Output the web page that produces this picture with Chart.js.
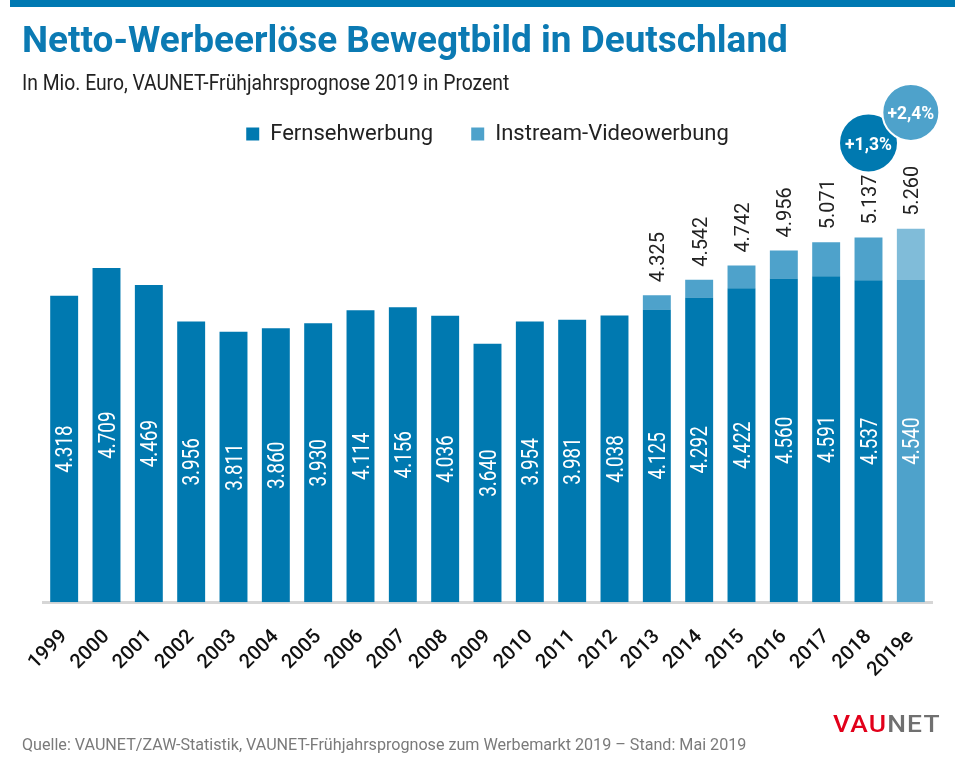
<!DOCTYPE html>
<html lang="de">
<head>
<meta charset="utf-8">
<title>Netto-Werbeerlöse Bewegtbild in Deutschland</title>
<script src="https://cdn.jsdelivr.net/npm/chart.js@4.4.1/dist/chart.umd.min.js"></script>
<style>
  html, body { margin: 0; padding: 0; background: #fff; }
  body { width: 955px; height: 765px; position: relative; overflow: hidden; font-family: Roboto, "Noto Sans", sans-serif; }
  #strip { position: absolute; left: 10px; top: 0; width: 945px; height: 7px; background: #0079b2; }
  .txt { position: absolute; white-space: nowrap; transform-origin: 0 0; }
  #title { left: 22px; top: 22px; font-size: 36px; line-height: 36px; font-weight: 700; color: #0b7ab3; }
  #subtitle { left: 22px; top: 72px; font-size: 22px; line-height: 22px; font-weight: 400; color: #222; }
  #source { left: 22px; top: 737px; font-size: 16.5px; line-height: 16.5px; color: #7a7a7a; }
  #logo { left: 833px; top: 713px; font-size: 23px; line-height: 23px; font-weight: 500; letter-spacing: 1px; }
  #logo .r { color: #e2001a; }
  #logo .g { color: #707070; }
  #wrap { position: absolute; left: 0; top: 0; width: 955px; height: 765px; }
</style>
</head>
<body>
<div id="wrap"><canvas id="chart" width="955" height="765"></canvas></div>
<div id="strip"></div>
<div id="title" class="txt" data-w="766">Netto-Werbeerlöse Bewegtbild in Deutschland</div>
<div id="subtitle" class="txt" data-w="487">In Mio. Euro, VAUNET-Frühjahrsprognose 2019 in Prozent</div>
<div id="source" class="txt" data-w="724">Quelle: VAUNET/ZAW-Statistik, VAUNET-Frühjahrsprognose zum Werbemarkt 2019 – Stand: Mai 2019</div>
<div id="logo" class="txt" data-w="108"><span class="r">VAU</span><span class="g">NET</span></div>
<script>
// ---- data ----
const categories = ['1999','2000','2001','2002','2003','2004','2005','2006','2007','2008','2009','2010','2011','2012','2013','2014','2015','2016','2017','2018','2019e'];
const tvValues = [4318,4709,4469,3956,3811,3860,3930,4114,4156,4036,3640,3954,3981,4038,4125,4292,4422,4560,4591,4537,4540];
const streamValues = [null,null,null,null,null,null,null,null,null,null,null,null,null,null,200,250,320,396,480,600,720];
const totalValues = [null,null,null,null,null,null,null,null,null,null,null,null,null,null,4325,4542,4742,4956,5071,5137,5260];
const seriesNames = ['Fernsehwerbung', 'Instream-Videowerbung'];
const growthCategories = ['2018', '2019e'];
const growthLabels = ['+1,3%', '+2,4%'];

// fit HTML texts to their widths (condensed look)
document.querySelectorAll('.txt').forEach(el => {
  const w = parseFloat(el.dataset.w);
  const s = w / el.scrollWidth;
  el.style.transform = 'scaleX(' + s + ')';
});

const DARK = '#0079b0', MID = '#4ea2cb', LIGHT = '#80bcd9';
const lastIdx = categories.length - 1;

function fmt(v) {
  return String(v).replace(/\B(?=(\d{3})+(?!\d))/g, '.');
}

function drawRotated(ctx, text, x, y, align, st) {
  ctx.save();
  ctx.translate(x, y);
  ctx.rotate(-Math.PI / 2);
  ctx.scale(st.stretch, 1);
  ctx.font = st.font;
  ctx.fillStyle = st.color;
  ctx.textAlign = align;
  ctx.textBaseline = 'alphabetic';
  ctx.fillText(text, 0, st.cap / 2);
  ctx.restore();
}

const barLabels = {
  id: 'barLabels',
  afterDatasetsDraw(chart, args, opts) {
    const ctx = chart.ctx;
    const tvMeta = chart.getDatasetMeta(0);
    const stMeta = chart.getDatasetMeta(1);
    tvMeta.data.forEach((bar, i) => {
      const yMid = (bar.y + bar.base) / 2;
      drawRotated(ctx, fmt(tvValues[i]), bar.x, yMid, 'center', opts.inner);
    });
    stMeta.data.forEach((bar, i) => {
      if (totalValues[i] == null) return;
      drawRotated(ctx, fmt(totalValues[i]), bar.x, bar.y - opts.gap, 'left', opts.total);
    });
    // growth bubbles
    const xs = chart.scales.x, ys = chart.scales.y;
    opts.bubbles.forEach((b, k) => {
      const idx = categories.indexOf(growthCategories[k]);
      const cx = xs.getPixelForValue(idx);
      const cy = ys.getPixelForValue(b.at);
      ctx.save();
      ctx.beginPath();
      ctx.arc(cx, cy, opts.radius, 0, Math.PI * 2);
      ctx.fillStyle = b.color;
      ctx.fill();
      if (b.stroke) { ctx.lineWidth = 2; ctx.strokeStyle = '#fff'; ctx.stroke(); }
      ctx.translate(cx, cy);
      ctx.scale(0.92, 1);
      ctx.font = '700 19px Roboto';
      ctx.fillStyle = '#fff';
      ctx.textAlign = 'center';
      ctx.textBaseline = 'alphabetic';
      ctx.fillText(growthLabels[k], 0, 7);
      ctx.restore();
    });
  }
};

new Chart(document.getElementById('chart'), {
  type: 'bar',
  data: {
    labels: categories,
    datasets: [
      {
        label: seriesNames[0],
        data: tvValues,
        backgroundColor: (c) => (c.dataIndex === lastIdx ? MID : DARK),
        borderWidth: 0
      },
      {
        label: seriesNames[1],
        data: streamValues,
        backgroundColor: (c) => (c.dataIndex === lastIdx ? LIGHT : MID),
        borderWidth: 0
      }
    ]
  },
  options: {
    responsive: false,
    animation: false,
    devicePixelRatio: 1,
    layout: { padding: { left: 43, right: 23, top: 85, bottom: 60 } },
    datasets: { bar: { barPercentage: 0.66, categoryPercentage: 1.0 } },
    scales: {
      x: {
        stacked: true,
        grid: { display: false, drawTicks: false },
        border: { display: true, color: '#d6d6d6', width: 3 },
        ticks: {
          minRotation: 45, maxRotation: 45, padding: 23, autoSkip: false,
          color: '#111', font: { family: 'Roboto', size: 20, weight: '500' }
        },
        afterFit: (scale) => { scale.paddingRight = 0; }
      },
      y: {
        stacked: true,
        display: false,
        min: 0,
        max: 6300
      }
    },
    plugins: {
      tooltip: { enabled: false },
      title: { display: false },
      legend: {
        display: true,
        position: 'top',
        align: 'center',
        labels: {
          boxWidth: 13, boxHeight: 13, padding: 38,
          color: '#222', font: { family: 'Roboto', size: 22, weight: '400' }
        }
      },
      barLabels: {
        gap: 13,
        radius: 28.5,
        inner: { font: '400 23px Roboto', color: '#fff', stretch: 0.82, cap: 16.4 },
        total: { font: '400 21px Roboto', color: '#222', stretch: 0.95, cap: 15 },
        bubbles: [
          { at: 6470, color: DARK, stroke: false },
          { at: 6900, color: MID, stroke: true }
        ]
      }
    }
  },
  plugins: [barLabels]
});
</script>
</body>
</html>
